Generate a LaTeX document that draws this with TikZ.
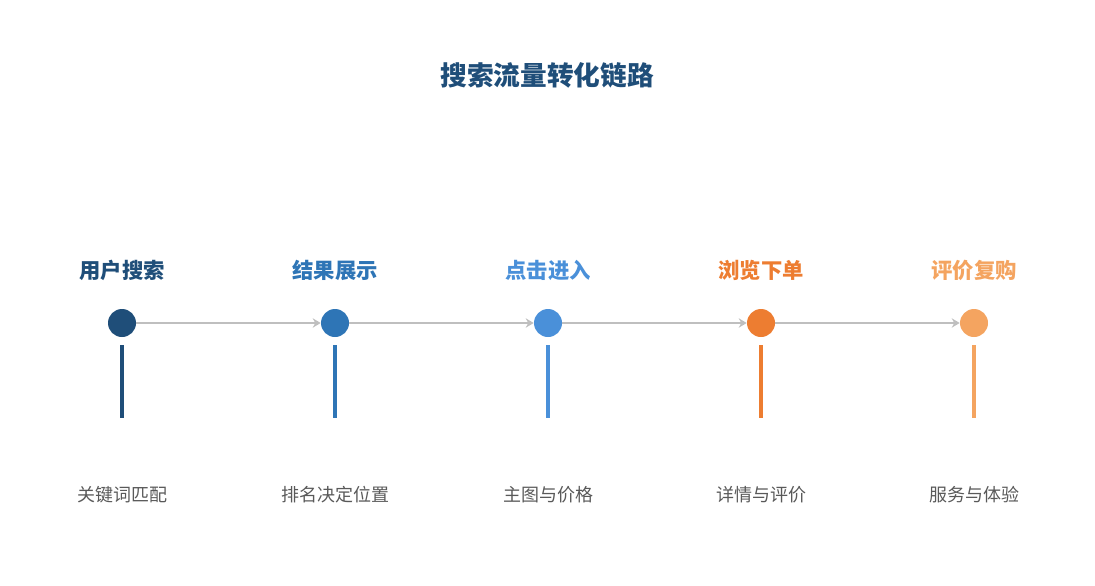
\documentclass[tikz,border=0pt]{standalone}
\usepackage{fontspec}
\setmainfont{Noto Sans CJK SC}
\usetikzlibrary{arrows.meta}
\definecolor{cA}{HTML}{1F4E79}
\definecolor{cB}{HTML}{2E75B6}
\definecolor{cC}{HTML}{4A90D9}
\definecolor{cD}{HTML}{ED7D31}
\definecolor{cE}{HTML}{F4A460}
\definecolor{lineg}{HTML}{BFBFBF}
\definecolor{textg}{HTML}{595959}
\tikzset{
		dot/.style={circle, inner sep=0pt, minimum size=21pt},
		stage/.style={font=\bfseries\fontsize{16pt}{18pt}\selectfont},
		note/.style={textg, font=\fontsize{13.5pt}{16pt}\selectfont},
		link/.style={lineg, line width=2.2pt, -{Stealth[length=6pt,width=7pt]}},
		stem/.style={line width=2.6pt}
	}
\begin{document}
\begin{tikzpicture}[x=0.75pt,y=-0.75pt]
\useasboundingbox (0,0) rectangle (1095,585);

\node (title) at (547,75) [cA, font=\bfseries\fontsize{20pt}{24pt}\selectfont] {搜索流量转化链路};

\foreach \i/\x/\c/\s/\n in {1/122/cA/用户搜索/关键词匹配, 2/335/cB/结果展示/排名决定位置, 3/548/cC/点击进入/主图与价格, 4/761/cD/浏览下单/详情与评价, 5/974/cE/评价复购/服务与体验}{
  \node (p\i) at (\x,323) [dot, fill=\c] {};
  \node (s\i) at (\x,270) [stage, \c] {\s};
  \node (n\i) at (\x,495) [note] {\n};
  \coordinate (a\i) at (\x,345);
  \coordinate (b\i) at (\x,418);
  \draw [stem, \c] (a\i) -- (b\i);
}

\foreach \i/\j in {1/2, 2/3, 3/4, 4/5}
  \draw [link] (p\i) -- (p\j);

\end{tikzpicture}
\end{document}
